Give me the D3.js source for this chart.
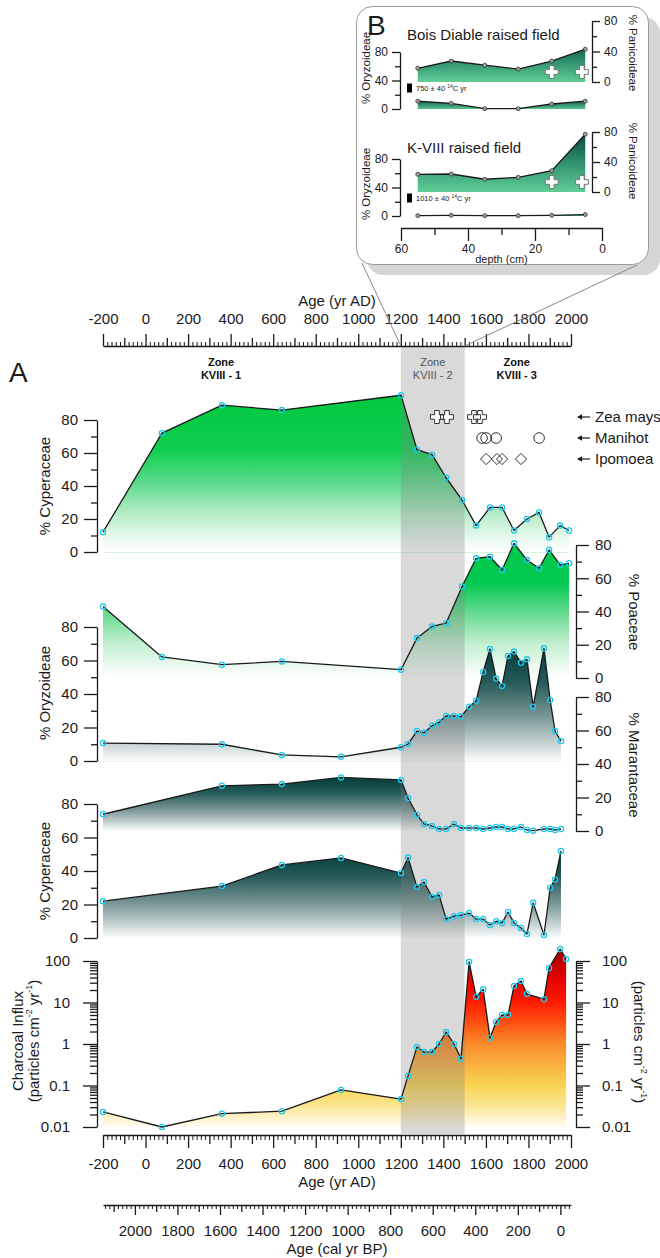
<!DOCTYPE html>
<html><head><meta charset="utf-8">
<script src="https://cdn.jsdelivr.net/npm/d3@7"></script>
<style>body{margin:0;background:#fff}svg{display:block}text{font-family:"Liberation Sans",Arial,Helvetica,sans-serif}</style>
</head><body><svg id="c" width="660" height="1258"></svg>
<script>
// ---------------- DATA ----------------
const pollenYears = [-200, 77, 359, 641, 1201, 1276, 1347, 1413, 1488, 1554, 1619, 1676, 1732, 1793, 1850, 1897, 1949, 1991];
const cyperaceaePollen = [12, 72, 89, 86, 95, 62, 59, 45, 31.5, 16, 27, 27, 13, 20, 24, 9, 16, 13];
const poaceae = [43, 12.7, 8, 10, 5, 24, 31, 33, 55, 72, 73, 65, 81, 71, 66, 77, 68, 69];

const phytoYears = [-200, 359, 641, 919, 1201, 1234, 1276, 1309, 1347, 1380, 1413, 1450, 1483, 1521, 1554, 1587, 1619, 1648, 1676, 1704, 1732, 1765, 1793, 1822, 1873, 1902, 1925, 1953];
const oryzoideae = [10.7, 10, 3.6, 2.5, 8.2, 10.1, 17.9, 16.9, 21.1, 23.1, 26.9, 26.9, 26.5, 32.4, 36, 53.1, 66.9, 49.2, 44.8, 62.7, 65.3, 58.7, 60.7, 32.4, 67.3, 36.4, 17.9, 11.9];
const marantaceae = [10, 27, 28, 32, 30.5, 19.7, 9.6, 4.2, 3, 1.2, 1.2, 4.2, 1.8, 1.8, 1.8, 1.2, 1.8, 2.4, 2.4, 1.2, 1.2, 2.4, 0.6, 0.2, 1.2, 1.2, 0.6, 1.2];
const cyperaceaePhyto = [22, 31, 43.6, 47.8, 38.8, 48, 30.4, 33.4, 24.5, 25.7, 11.3, 13, 13.7, 14.9, 11.3, 11.3, 7.8, 10, 9, 15.5, 9, 6, 2.4, 21, 1.8, 30, 35, 52];

const charcoalYears = [-200, 77, 359, 641, 919, 1201, 1234, 1276, 1309, 1347, 1380, 1413, 1450, 1483, 1521, 1554, 1587, 1619, 1648, 1676, 1704, 1732, 1765, 1793, 1873, 1897, 1949, 1977];
const charcoal = [0.023, 0.01, 0.021, 0.024, 0.078, 0.047, 0.17, 0.85, 0.64, 0.64, 1.0, 1.95, 1.0, 0.44, 95, 13.6, 21, 1.4, 3.4, 5, 5, 25, 33, 16, 12, 68, 194, 112];

const zeaYears = [1370, 1417, 1544, 1572];
const manihotYears = [1582, 1601, 1648, 1850];
const ipomoeaYears = [1601, 1652, 1676, 1765];

const zones = [
  {from: -200, to: 1200, label: "KVIII - 1", mid: 355},
  {from: 1200, to: 1500, label: "KVIII - 2", mid: 1350},
  {from: 1500, to: 2000, label: "KVIII - 3", mid: 1745}
];

const pctTicks = [0, 20, 40, 60, 80];
const pctMinor = [10, 30, 50, 70];
const logTicks = [0.01, 0.1, 1, 10, 100];
const adTicks = [-200, 0, 200, 400, 600, 800, 1000, 1200, 1400, 1600, 1800, 2000];
const bpTicks = [2000, 1800, 1600, 1400, 1200, 1000, 800, 600, 400, 200, 0];

// inset B
const depths = [55, 45, 35, 25, 15, 5];
const bdPanicoideae = [18, 27.5, 22, 17, 27.5, 43];
const bdOryzoideae = [11, 8, 0.5, 0.5, 7, 11];
const kvPanicoideae = [23.6, 24, 17, 19.6, 28.4, 77];
const kvOryzoideae = [0.5, 1, 0.5, 0.5, 1, 2];
const insetZeaDepths = [15, 6];
const insetTicks = [0, 40, 80];
const insetMinor = [20, 60];
const depthTicks = [60, 40, 20, 0];
const depthMinor = [50, 30, 10];

// ---------------- SETUP ----------------
const FONT = '"Liberation Sans",Arial,Helvetica,sans-serif';
const INK = '#1a1a1a';
const svg = d3.select('#c');
const defs = svg.append('defs');

const x = d3.scaleLinear().domain([-200, 2000]).range([103, 571]);
const xBP = d3.scaleLinear().domain([2150, -50]).range([103, 571]);
const yCyp1 = d3.scaleLinear().domain([0, 80]).range([552, 420]);
const yPoa = d3.scaleLinear().domain([0, 80]).range([678, 545]);
const yOry = d3.scaleLinear().domain([0, 80]).range([761, 627]);
const yMar = d3.scaleLinear().domain([0, 80]).range([831, 697]);
const yCyp2 = d3.scaleLinear().domain([0, 80]).range([938, 804]);
const yChar = d3.scaleLog().domain([0.01, 100]).range([1127, 961]);

function grad(id, y1, y2, stops) {
  const g = defs.append('linearGradient').attr('id', id).attr('gradientUnits', 'userSpaceOnUse')
    .attr('x1', 0).attr('x2', 0).attr('y1', y1).attr('y2', y2);
  stops.forEach(([o, c]) => g.append('stop').attr('offset', o).attr('stop-color', c));
}
const greenStops = [[0, '#00c83e'], [0.35, '#0fce4f'], [0.55, '#5ada8a'], [0.75, '#b2ecc5'], [0.92, '#ebfaef'], [1, '#ffffff']];
const tealStops = [[0, '#033c39'], [0.3, '#265b59'], [0.6, '#789695'], [0.85, '#c9d5d5'], [1, '#fbfdfd']];
grad('gCyp1', 395, 552, greenStops);
grad('gPoa', 543, 678, [[0, '#00c84a'], [0.3, '#05ca52'], [0.5, '#5dd98a'], [0.75, '#c5f0d2'], [1, '#ffffff']]);
grad('gOry', 649, 761, tealStops);
grad('gMar', 777, 831, tealStops);
grad('gCyp2', 851, 938, tealStops);
grad('gChar', 949, 1127, [[0, '#a80000'], [0.15, '#e00000'], [0.29, '#ff1800'], [0.4, '#ff4a10'], [0.53, '#f98a2a'], [0.65, '#f8b040'], [0.76, '#f9d350'], [0.88, '#fbe593'], [1, '#fffdf2']]);
grad('gIn1', 40, 82, [[0, '#07463e'], [0.5, '#2f8f6c'], [1, '#5fcf96']]);
grad('gIn2', 99, 109, [[0, '#0a3d36'], [1, '#55c890']]);
grad('gIn3', 132, 192, [[0, '#07463e'], [0.5, '#2f8f6c'], [1, '#5fcf96']]);
grad('gIn4', 213, 216, [[0, '#0a3d36'], [1, '#55c890']]);

const gArea = svg.append('g');
const gBand = svg.append('g');
const gLine = svg.append('g');
const gMark = svg.append('g');

function series(years, vals, yScale, base, fillId) {
  const data = years.map((yr, i) => [yr, vals[i]]);
  const area = d3.area().x(d => x(d[0])).y0(base).y1(d => yScale(d[1]));
  const line = d3.line().x(d => x(d[0])).y(d => yScale(d[1]));
  gArea.append('path').attr('d', area(data)).attr('fill', `url(#${fillId})`);
  gLine.append('path').attr('d', line(data)).attr('fill', 'none').attr('stroke', INK).attr('stroke-width', 1.3).attr('stroke-linejoin', 'round');
  gMark.selectAll(null).data(data).enter().append('circle')
    .attr('cx', d => x(d[0])).attr('cy', d => yScale(d[1])).attr('r', 2.6)
    .attr('fill', 'none').attr('stroke', '#1ec8ea').attr('stroke-width', 1.3);
}

// faint baselines
gArea.append('line').attr('x1', x(-200)).attr('x2', x(1991)).attr('y1', yCyp1(0)).attr('y2', yCyp1(0)).attr('stroke', '#c6efd2').attr('stroke-width', 1.5);
gArea.append('line').attr('x1', x(-200)).attr('x2', x(1953)).attr('y1', yOry(0)).attr('y2', yOry(0)).attr('stroke', '#dbe5ec').attr('stroke-width', 1.2);

series(pollenYears, cyperaceaePollen, yCyp1, yCyp1(0), 'gCyp1');
series(pollenYears, poaceae, yPoa, yPoa(0), 'gPoa');
series(phytoYears, oryzoideae, yOry, yOry(0), 'gOry');
series(phytoYears, marantaceae, yMar, yMar(0), 'gMar');
series(phytoYears, cyperaceaePhyto, yCyp2, yCyp2(0), 'gCyp2');
series(charcoalYears, charcoal, yChar, yChar(0.01), 'gChar');

// zone 2 band
gBand.append('rect').attr('x', x(zones[1].from)).attr('width', x(zones[1].to) - x(zones[1].from))
  .attr('y', 347).attr('height', 1134 - 347).attr('fill', '#808080').attr('opacity', 0.3);

// ---------------- AXES ----------------
function styleAxis(g, fs) {
  g.attr('font-family', FONT).attr('font-size', fs || 15);
  g.selectAll('line,path').attr('stroke', INK).attr('stroke-width', 1.3);
  g.selectAll('text').attr('fill', INK);
}
function vAxis(scale, xpos, side, majors, minors, o = {}) {
  const A = side === 'left' ? d3.axisLeft : d3.axisRight;
  const g = svg.append('g').attr('transform', `translate(${xpos},0)`);
  const ax = A(scale).tickValues(majors).tickSize(o.maj || 13).tickPadding(o.pad || 6).tickSizeOuter(0).tickFormat(o.fmt || (d => String(d)));
  g.call(ax);
  styleAxis(g, o.fs);
  const mg = svg.append('g').attr('transform', `translate(${xpos},0)`);
  mg.call(A(scale).tickValues(minors).tickSize(o.min || 6).tickFormat('').tickSizeOuter(0));
  mg.select('.domain').remove();
  styleAxis(mg, o.fs);
}
vAxis(yCyp1, 97, 'left', pctTicks, pctMinor);
vAxis(yPoa, 576, 'right', pctTicks, pctMinor);
vAxis(yOry, 97, 'left', pctTicks, pctMinor);
vAxis(yMar, 576, 'right', pctTicks, pctMinor);
vAxis(yCyp2, 97, 'left', pctTicks, pctMinor);
const logMinor = [];
[-2, -1, 0, 1].forEach(k => { for (let m = 2; m <= 9; m++) logMinor.push(+(m * Math.pow(10, k)).toPrecision(3)); });
vAxis(yChar, 97, 'left', logTicks, logMinor, {maj: 14, min: 7, pad: 13});
vAxis(yChar, 576, 'right', logTicks, logMinor, {maj: 14, min: 7, pad: 12});

function hAxis(scale, ypos, orient, majors, mids, minors, o) {
  const A = orient === 'top' ? d3.axisTop : d3.axisBottom;
  const g = svg.append('g').attr('transform', `translate(0,${ypos})`);
  g.call(A(scale).tickValues(majors).tickSize(o.maj).tickPadding(o.pad).tickSizeOuter(0).tickFormat(d => String(d)));
  styleAxis(g);
  const g2 = svg.append('g').attr('transform', `translate(0,${ypos})`);
  g2.call(A(scale).tickValues(mids).tickSize(o.mid).tickFormat('').tickSizeOuter(0));
  g2.select('.domain').remove(); styleAxis(g2);
  const g3 = svg.append('g').attr('transform', `translate(0,${ypos})`);
  g3.call(A(scale).tickValues(minors).tickSize(o.min).tickFormat('').tickSizeOuter(0));
  g3.select('.domain').remove(); styleAxis(g3);
  g3.selectAll('line').attr('stroke-width', 1);
}
const adAll = d3.range(-200, 2001, 20);
const adMid = adAll.filter(d => d % 100 === 0 && d % 200 !== 0);
const adMin = adAll.filter(d => d % 100 !== 0);
hAxis(x, 346, 'top', adTicks, adMid, adMin, {maj: 12, mid: 8, min: 4, pad: 10});
hAxis(x, 1135, 'bottom', adTicks, adMid, adMin, {maj: 13, mid: 9, min: 5, pad: 10});
const bpAll = d3.range(-40, 2141, 20);
const bpMid = bpAll.filter(d => d % 100 === 0 && d % 200 !== 0);
const bpMin = bpAll.filter(d => d % 100 !== 0);
hAxis(xBP, 1205, 'bottom', bpTicks, bpMid, bpMin, {maj: 10, mid: 7, min: 4, pad: 10});

function txt(t, xp, yp, o = {}) {
  const e = svg.append('text').attr('x', xp).attr('y', yp).text(t)
    .attr('font-size', o.fs || 15).attr('fill', o.fill || INK).attr('text-anchor', o.anchor || 'middle')
    .attr('font-family', FONT);
  if (o.bold) e.attr('font-weight', 'bold');
  return e;
}
function rtxt(t, xp, yp, rot, o = {}) {
  return svg.append('text').attr('transform', `translate(${xp},${yp}) rotate(${rot})`)
    .attr('text-anchor', 'middle').attr('dominant-baseline', 'middle').attr('font-family', FONT)
    .attr('font-size', o.fs || 15).attr('fill', INK).text(t);
}
txt('Age (yr AD)', x(900), 306);
txt('Age (yr AD)', x(900), 1187);
txt('Age (cal yr BP)', x(900), 1254);
txt('A', 9, 382, {fs: 28, anchor: 'start'});

zones.forEach((z, i) => {
  const c = i === 1 ? '#555' : '#111';
  txt('Zone', x(z.mid), 366, {fs: 11, bold: i !== 1, fill: c});
  txt(z.label, x(z.mid), 379, {fs: 11, bold: i !== 1, fill: c});
});

rtxt('% Cyperaceae', 46, 486, -90);
rtxt('% Oryzoideae', 46, 693, -90);
rtxt('% Cyperaceae', 46, 871, -90);
rtxt('% Poaceae', 633, 612, 90);
rtxt('% Marantaceae', 633, 765, 90);
rtxt('Charcoal Influx', 19, 1041, -90);
function unitLabel(xp, yp, rot) {
  const t = svg.append('text').attr('transform', `translate(${xp},${yp}) rotate(${rot})`)
    .attr('text-anchor', 'middle').attr('dominant-baseline', 'middle').attr('font-family', FONT)
    .attr('font-size', 15).attr('fill', INK);
  t.append('tspan').text('(particles cm');
  t.append('tspan').attr('baseline-shift', 'super').attr('font-size', 9).text('-2');
  t.append('tspan').text(' yr');
  t.append('tspan').attr('baseline-shift', 'super').attr('font-size', 9).text('-1');
  t.append('tspan').text(')');
}
unitLabel(35, 1041, -90);
unitLabel(638, 1042, 90);

// ---------------- CROP SYMBOLS ----------------
function crossPath(cx, cy, L, w) {
  return `M${cx - w},${cy - L}H${cx + w}V${cy - w}H${cx + L}V${cy + w}H${cx + w}V${cy + L}H${cx - w}V${cy + w}H${cx - L}V${cy - w}H${cx - w}Z`;
}
function diamondPath(cx, cy, r) { return `M${cx},${cy - r}L${cx + r},${cy}L${cx},${cy + r}L${cx - r},${cy}Z`; }
const gSym = svg.append('g');
const symRows = [
  {yrs: zeaYears, y: 417, shape: 'cross', label: 'Zea mays'},
  {yrs: manihotYears, y: 438, shape: 'circle', label: 'Manihot'},
  {yrs: ipomoeaYears, y: 459, shape: 'diamond', label: 'Ipomoea'}
];
['fill', 'stroke'].forEach(pass => {
  symRows.forEach(r => {
    r.yrs.forEach(yr => {
      let e;
      if (r.shape === 'cross') e = gSym.append('path').attr('d', crossPath(x(yr), r.y, 6.5, 2.3));
      else if (r.shape === 'circle') e = gSym.append('circle').attr('cx', x(yr)).attr('cy', r.y).attr('r', 5.3);
      else e = gSym.append('path').attr('d', diamondPath(x(yr), r.y, 5.6));
      if (pass === 'fill') e.attr('fill', '#fff').attr('stroke', 'none');
      else e.attr('fill', 'none').attr('stroke', '#333').attr('stroke-width', 1);
    });
  });
});
symRows.forEach(r => {
  gSym.append('line').attr('x1', 590).attr('x2', 580).attr('y1', r.y).attr('y2', r.y).attr('stroke', INK).attr('stroke-width', 1.2);
  gSym.append('path').attr('d', `M577,${r.y}L582,${r.y - 2.8}L582,${r.y + 2.8}Z`).attr('fill', INK);
  txt(r.label, 595, r.y + 5, {fs: 15, anchor: 'start'});
});

// ---------------- INSET B ----------------
const gIn = svg.append('g');
gIn.append('rect').attr('x', 367).attr('y', 17).attr('width', 293).attr('height', 258).attr('rx', 16).attr('fill', '#d6d6d6');
gIn.append('rect').attr('x', 356.5).attr('y', 6.5).attr('width', 292).attr('height', 258).attr('rx', 16).attr('fill', '#fff').attr('stroke', '#9a9a9a').attr('stroke-width', 1);
gIn.append('line').attr('x1', 362).attr('y1', 263).attr('x2', x(1200)).attr('y2', 346).attr('stroke', '#8a8a8a').attr('stroke-width', 1);
gIn.append('line').attr('x1', 637).attr('y1', 265).attr('x2', x(1500)).attr('y2', 346).attr('stroke', '#8a8a8a').attr('stroke-width', 1);

const xd = d3.scaleLinear().domain([60, 0]).range([401, 602]);
const yBdP = d3.scaleLinear().domain([0, 80]).range([82, 21]);
const yBdO = d3.scaleLinear().domain([0, 80]).range([109, 52]);
const yKvP = d3.scaleLinear().domain([0, 80]).range([192, 132]);
const yKvO = d3.scaleLinear().domain([0, 80]).range([216, 159]);

function inSeries(vals, ys, fillId) {
  const data = depths.map((d, i) => [d, vals[i]]);
  gIn.append('path').attr('d', d3.area().x(d => xd(d[0])).y0(ys(0)).y1(d => ys(d[1]))(data)).attr('fill', `url(#${fillId})`);
  gIn.append('path').attr('d', d3.line().x(d => xd(d[0])).y(d => ys(d[1]))(data)).attr('fill', 'none').attr('stroke', INK).attr('stroke-width', 1.3);
  gIn.selectAll(null).data(data).enter().append('circle').attr('cx', d => xd(d[0])).attr('cy', d => ys(d[1])).attr('r', 2)
    .attr('fill', '#a0a0a0').attr('stroke', '#333').attr('stroke-width', 0.8);
}
inSeries(bdPanicoideae, yBdP, 'gIn1');
inSeries(bdOryzoideae, yBdO, 'gIn2');
inSeries(kvPanicoideae, yKvP, 'gIn3');
inSeries(kvOryzoideae, yKvO, 'gIn4');

function inAxis(scale, xpos, side) {
  const A = side === 'left' ? d3.axisLeft : d3.axisRight;
  const g = gIn.append('g').attr('transform', `translate(${xpos},0)`);
  g.call(A(scale).tickValues(insetTicks).tickSize(8).tickPadding(4).tickSizeOuter(0).tickFormat(d => String(d)));
  styleAxis(g, 12);
  const m = gIn.append('g').attr('transform', `translate(${xpos},0)`);
  m.call(A(scale).tickValues(insetMinor).tickSize(5).tickFormat('').tickSizeOuter(0));
  m.select('.domain').remove(); styleAxis(m, 12);
}
inAxis(yBdO, 400, 'left');
inAxis(yBdP, 592, 'right');
inAxis(yKvO, 400, 'left');
inAxis(yKvP, 592, 'right');
const gd = gIn.append('g').attr('transform', 'translate(0,228)');
gd.call(d3.axisBottom(xd).tickValues(depthTicks).tickSize(13).tickPadding(3).tickSizeOuter(0).tickFormat(d => String(d)));
styleAxis(gd, 12);
const gd2 = gIn.append('g').attr('transform', 'translate(0,228)');
gd2.call(d3.axisBottom(xd).tickValues(depthMinor).tickSize(7).tickFormat('').tickSizeOuter(0));
gd2.select('.domain').remove(); styleAxis(gd2, 12);

txt('depth (cm)', xd(30), 263, {fs: 11});
txt('B', 367, 35, {fs: 28, anchor: 'start'});
txt('Bois Diable raised field', 407, 40, {fs: 15, anchor: 'start'});
txt('K-VIII raised field', 407, 153, {fs: 15, anchor: 'start'});
rtxt('% Oryzoideae', 367, 68, -90, {fs: 11.5});
rtxt('% Oryzoideae', 367, 184, -90, {fs: 11.5});
rtxt('% Panicoideae', 632, 53, 90, {fs: 11.5});
rtxt('% Panicoideae', 632, 161, 90, {fs: 11.5});

function dateBox(yp, label) {
  gIn.append('rect').attr('x', 407).attr('y', yp - 4.5).attr('width', 5).attr('height', 9).attr('fill', '#000');
  const t = gIn.append('text').attr('x', 416).attr('y', yp + 2.5).attr('font-size', 7.5).attr('font-family', FONT).attr('fill', INK);
  t.append('tspan').text(label + ' ');
  t.append('tspan').attr('baseline-shift', 'super').attr('font-size', 5).text('14');
  t.append('tspan').text('C yr');
}
dateBox(88, '750 ± 40');
dateBox(198, '1010 ± 40');

[[yBdP, 72], [yKvP, 182]].forEach(([s, yy]) => {
  insetZeaDepths.forEach(d => {
    gIn.append('path').attr('d', crossPath(xd(d), yy, 6.5, 2.3)).attr('fill', '#fff').attr('stroke', '#777').attr('stroke-width', 1);
  });
});
</script></body></html>
